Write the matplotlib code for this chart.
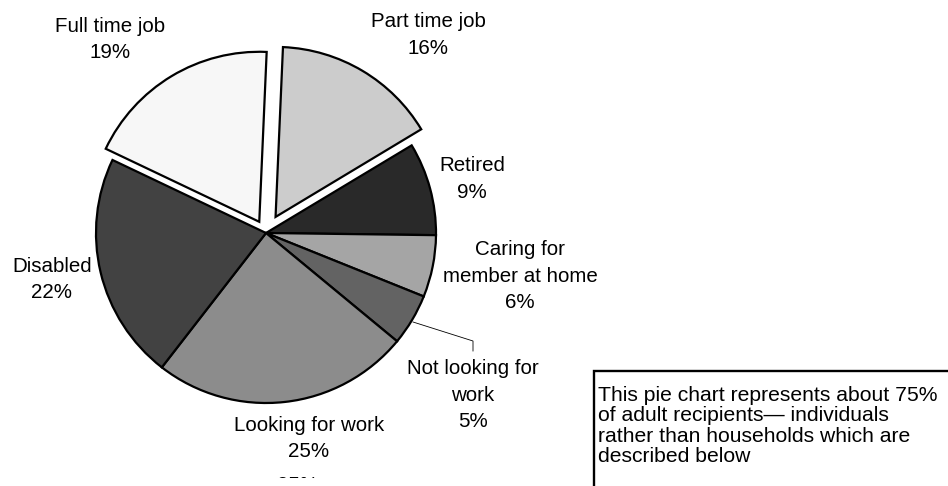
import matplotlib.pyplot as plt
from matplotlib.patches import Rectangle

plt.rcParams['font.family'] = ['Liberation Sans', 'DejaVu Sans']

# work status of adult recipients, clockwise from the top
names = ["Part time job", "Retired", "Caring for\nmember at home",
         "Not looking for\nwork", "Looking for work", "Disabled", "Full time job"]
shares = [16, 9, 6, 5, 25, 22, 19]
greys = ["#cccccc", "#292929", "#a5a5a5", "#636363", "#8c8c8c", "#424242", "#f7f7f7"]
explode = [0.11, 0, 0, 0, 0, 0, 0.077]

# label centres in pixels (x right, y up)
label_xy = [(428, 451), (472, 307), (520, 210), (473, 91), (309, 47.5), (52, 206.5), (110, 446.5)]

note = ("This pie chart represents about 75%\n"
        "of adult recipients\u2014 individuals\n"
        "rather than households which are\n"
        "described below")

W, H = 948, 486
fig = plt.figure(figsize=(W / 100, H / 100), dpi=100)

# overlay in pixel units for the labels, leader line and note box
ax = fig.add_axes([0, 0, 1, 1])
ax.set_xlim(0, W)
ax.set_ylim(0, H)
ax.axis('off')
ax.set_facecolor('none')

# pie in its own axes: radius 170 px, centred at (266, 253)
R, cx, cy = 170, 266, 253
pax = fig.add_axes([(cx - 1.25 * R) / W, (cy - 1.25 * R) / H, 2.5 * R / W, 2.5 * R / H])
pax.set_facecolor('none')
pax.pie(shares, explode=explode, colors=greys, startangle=87.5, counterclock=False,
        wedgeprops=dict(edgecolor='black', linewidth=1.6))

for name, val, (x, y) in zip(names, shares, label_xy):
    ax.text(x, y, f"{name}\n{val}%", ha='center', va='center', fontsize=14.8,
            linespacing=1.48, color='black')

# leader to the small "Not looking for work" slice
ax.plot([413, 473, 473], [164, 145, 135], color='black', lw=0.6)

# stray value label, mostly hidden below the plot area
ax.text(298, 1, "25%", ha='center', va='center', fontsize=14.8, color='black', zorder=2)
ax.add_patch(Rectangle((250, -5), 100, 13, facecolor='white', edgecolor='none', zorder=3))

ax.add_patch(Rectangle((594, -20), 420, 135, facecolor='white', edgecolor='black', lw=1.7))
ax.text(598, 60, note, ha='left', va='center', fontsize=15.2, linespacing=1.08, color='black')

fig.savefig("out.png", dpi=100)
